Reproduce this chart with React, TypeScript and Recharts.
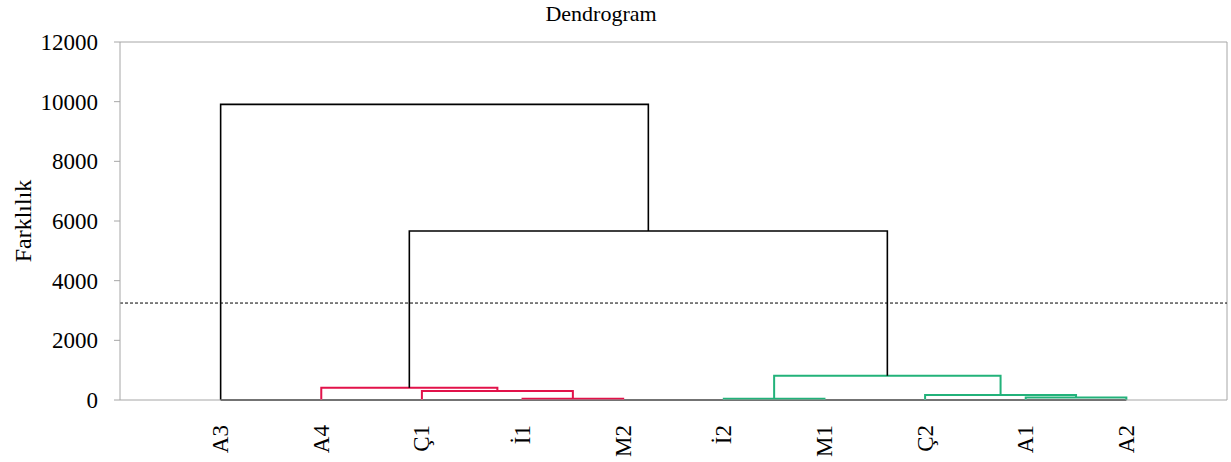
import React from 'react'
import { ComposedChart, Line, XAxis, YAxis, ReferenceLine } from 'recharts'

// leaves in dendrogram order
const leaves = ['A3', 'A4', 'Ç1', 'İ1', 'M2', 'İ2', 'M1', 'Ç2', 'A1', 'A2']

// merges: node ids < 10 are leaves, id 10 + k is the k-th merge
const mergeLeft = [3, 5, 8, 7, 2, 1, 11, 15, 0]
const mergeRight = [4, 6, 9, 12, 10, 14, 13, 16, 17]
const mergeHeight = [45, 45, 85, 165, 300, 410, 815, 5665, 9910]
const mergeGroup = ['c1', 'c2', 'c2', 'c2', 'c1', 'c1', 'c2', 'root', 'root']

const yTicks = [0, 2000, 4000, 6000, 8000, 10000, 12000]
const cutLevel = 3250

const groupColors: Record<string, string> = {
    c1: '#E2124A',
    c2: '#22B27A',
    root: '#000000',
}

const font = '"Liberation Serif", "Times New Roman", serif'
const gray = '#A6A6A6'

const buildLinks = () => {
    const pos: number[] = leaves.map((_, i) => i + 1)
    const h: number[] = leaves.map(() => 0)
    return mergeHeight.map((H, k) => {
        const a = mergeLeft[k]
        const b = mergeRight[k]
        pos[10 + k] = (pos[a] + pos[b]) / 2
        h[10 + k] = H
        return {
            group: mergeGroup[k],
            data: [
                { x: pos[a], y: h[a] },
                { x: pos[a], y: H },
                { x: pos[b], y: H },
                { x: pos[b], y: h[b] },
            ],
        }
    })
}

const links = buildLinks()
const baseline = leaves.map((_, i) => ({ x: i + 1, y: 0 }))

const LeafTick = ({ x, y, payload }: any) => (
    <text
        transform={`translate(${x},${y + 17}) rotate(-90)`}
        textAnchor="end"
        dominantBaseline="central"
        fontFamily={font}
        fontSize={23}
        fill="#000"
    >
        {leaves[payload.value - 1]}
    </text>
)

const App = () => {
    return (
        <div style={{ position: 'absolute', left: 0, top: 0, width: 1231, height: 462, background: '#fff' }}>
            <ComposedChart width={1231} height={462} margin={{ top: 42, right: 4, bottom: 0, left: 0 }}>
                <XAxis
                    type="number"
                    dataKey="x"
                    domain={[0, 11]}
                    ticks={leaves.map((_, i) => i + 1)}
                    tick={<LeafTick />}
                    tickLine={false}
                    axisLine={{ stroke: gray }}
                    height={62}
                    allowDuplicatedCategory={false}
                />
                <YAxis
                    type="number"
                    domain={[0, 12000]}
                    ticks={yTicks}
                    width={120}
                    tickSize={6}
                    tickMargin={16}
                    tickLine={{ stroke: gray }}
                    axisLine={{ stroke: gray }}
                    tick={{ fontFamily: font, fontSize: 23, fill: '#000' }}
                />
                <ReferenceLine y={12000} stroke={gray} />
                <ReferenceLine x={11} stroke={gray} />
                <Line data={baseline} dataKey="y" stroke="#000" strokeWidth={1.5} dot={false} activeDot={false} isAnimationActive={false} />
                {links.map((l, i) => (
                    <Line
                        key={i}
                        data={l.data}
                        dataKey="y"
                        stroke={groupColors[l.group]}
                        strokeWidth={l.group === 'root' ? 1.6 : 2}
                        dot={false}
                        activeDot={false}
                        isAnimationActive={false}
                    />
                ))}
                <ReferenceLine y={cutLevel} stroke="#000" strokeDasharray="3 2" />
            </ComposedChart>
            <svg width={1231} height={462} style={{ position: 'absolute', left: 0, top: 0, pointerEvents: 'none' }}>
                <text x={601} y={21} textAnchor="middle" fontFamily={font} fontSize={22} fill="#000">
                    Dendrogram
                </text>
                <text transform="translate(31,221) rotate(-90)" textAnchor="middle" fontFamily={font} fontSize={24} fill="#000">
                    Farklılık
                </text>
            </svg>
        </div>
    )
}

export default App
